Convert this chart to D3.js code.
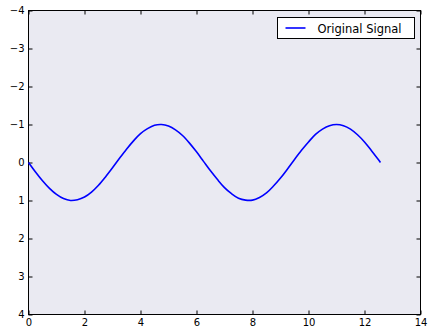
<!DOCTYPE html>
<html>
<head>
<meta charset="utf-8">
<script src="https://cdn.jsdelivr.net/npm/d3@7"></script>
<style>
  body { margin: 0; background: #fff; }
  text { font-family: "DejaVu Sans", sans-serif; }
</style>
</head>
<body>
<div id="chart"></div>
<script>
var svgWidth = 428;
var svgHeight = 328;

var margin = { top: 10.5, right: 7.5, bottom: 13.5, left: 28.5 };
var width = svgWidth - margin.left - margin.right;
var height = svgHeight - margin.top - margin.bottom;

// values
var xValues = [0, 0.25, 0.5, 0.75, 1, 1.25, 1.5, 1.75, 2, 2.25, 2.5, 2.75, 3, 3.25, 3.5, 3.75,
  4, 4.25, 4.5, 4.75, 5, 5.25, 5.5, 5.75, 6, 6.25, 6.5, 6.75, 7, 7.25, 7.5, 7.75,
  8, 8.25, 8.5, 8.75, 9, 9.25, 9.5, 9.75, 10, 10.25, 10.5, 10.75, 11, 11.25, 11.5, 11.75,
  12, 12.25, 12.5, 12.57];
var signal = [0, 0.25, 0.48, 0.68, 0.84, 0.95, 1.0, 0.98, 0.91, 0.78, 0.6, 0.38, 0.14, -0.11, -0.35, -0.57,
  -0.76, -0.89, -0.98, -1.0, -0.96, -0.86, -0.71, -0.51, -0.28, -0.03, 0.22, 0.45, 0.66, 0.82, 0.94, 0.99,
  0.99, 0.92, 0.8, 0.62, 0.41, 0.17, -0.08, -0.32, -0.54, -0.74, -0.88, -0.97, -1.0, -0.97, -0.88, -0.73,
  -0.54, -0.31, -0.07, 0];
var xTicks = [0, 2, 4, 6, 8, 10, 12, 14];
var yTicks = [-4, -3, -2, -1, 0, 1, 2, 3, 4];
var seriesName = "Original Signal";

var svg = d3.select("#chart").append("svg")
  .attr("width", svgWidth)
  .attr("height", svgHeight);

var chartGroup = svg.append("g")
  .attr("transform", "translate(" + margin.left + "," + margin.top + ")");

var x = d3.scaleLinear().domain([0, 14]).range([0, width]);
// y axis is inverted: -4 at top
var y = d3.scaleLinear().domain([-4, 4]).range([0, height]);

chartGroup.append("rect")
  .attr("width", width)
  .attr("height", height)
  .attr("fill", "#eaeaf2");

var fmt = function(d) { return d < 0 ? "\u2212" + Math.abs(d) : String(d); };

var bottomAxis = chartGroup.append("g")
  .attr("transform", "translate(0," + height + ")")
  .call(d3.axisBottom(x).tickValues(xTicks).tickSize(-4).tickPadding(4).tickFormat(fmt));
var topAxis = chartGroup.append("g")
  .call(d3.axisTop(x).tickValues(xTicks).tickSize(-4).tickFormat(""));
var leftAxis = chartGroup.append("g")
  .call(d3.axisLeft(y).tickValues(yTicks).tickSize(-4).tickPadding(4).tickFormat(fmt));
var rightAxis = chartGroup.append("g")
  .attr("transform", "translate(" + width + ",0)")
  .call(d3.axisRight(y).tickValues(yTicks).tickSize(-4).tickFormat(""));

[bottomAxis, topAxis, leftAxis, rightAxis].forEach(function(a) {
  a.select(".domain").remove();
  a.selectAll("line").attr("stroke", "#000");
  a.selectAll("text").attr("fill", "#000").style("font-size", "10px");
});

chartGroup.append("rect")
  .attr("width", width)
  .attr("height", height)
  .attr("fill", "none")
  .attr("stroke", "#000")
  .attr("stroke-width", 1);

var line = d3.line()
  .x(function(d, i) { return x(xValues[i]); })
  .y(function(d) { return y(d); })
  .curve(d3.curveCatmullRom);

chartGroup.append("path")
  .datum(signal)
  .attr("d", line)
  .attr("fill", "none")
  .attr("stroke", "#0000ff")
  .attr("stroke-width", 1.6);

// legend
var legend = svg.append("g").attr("transform", "translate(277.5,17.5)");
legend.append("rect")
  .attr("width", 137)
  .attr("height", 21)
  .attr("fill", "#fff")
  .attr("stroke", "#000");
legend.append("line")
  .attr("x1", 8).attr("x2", 28)
  .attr("y1", 10.5).attr("y2", 10.5)
  .attr("stroke", "#0000ff")
  .attr("stroke-width", 1.6);
legend.append("text")
  .attr("x", 40)
  .attr("y", 15)
  .style("font-size", "11.5px")
  .attr("fill", "#000")
  .text(seriesName);
</script>
</body>
</html>
